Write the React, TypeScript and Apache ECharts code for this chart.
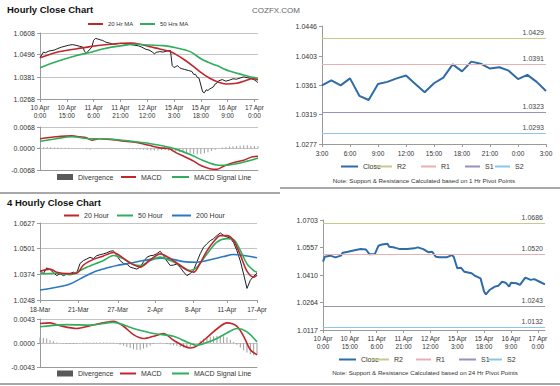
import React, { useEffect, useRef } from 'react';
import * as echarts from 'echarts';

const FONT = "'Liberation Sans', Arial, Helvetica, sans-serif";

// ---------- Hourly close chart (top-left) ----------
const hourlyTickHours = [0, 15, 30, 45, 60, 75, 90, 105, 120];
const hourlyTickLabels = ['10 Apr\n0:00', '10 Apr\n15:00', '11 Apr\n6:00', '11 Apr\n21:00', '12 Apr\n12:00', '15 Apr\n3:00', '15 Apr\n18:00', '16 Apr\n9:00', '17 Apr\n0:00'];
const hourlyPriceTicks = [1.0268, 1.0381, 1.0496, 1.0608];
const hourlyMacdTicks = [-0.0068, 0, 0.0068];

const hourlyCloseHours = [0, 2, 3, 5, 8, 10, 12, 14, 16, 18, 20, 22, 24, 25, 26, 27, 28, 29, 30, 31, 32, 33, 34, 35, 36, 37, 39, 41, 43, 45, 47, 49, 51, 53, 55, 57, 59, 61, 63, 64, 65, 67, 69, 71, 73, 74, 75, 76, 77, 78, 79, 81, 83, 85, 86, 87, 88, 89, 90, 91, 92, 93, 94, 95, 96, 97, 98, 99, 100, 102, 104, 106, 108, 110, 112, 114, 116, 118, 120, 121, 122];
const hourlyClose = [1.0481, 1.0510, 1.0506, 1.0515, 1.0520, 1.0528, 1.0535, 1.0540, 1.0545, 1.0548, 1.0545, 1.0540, 1.0535, 1.0512, 1.0505, 1.0515, 1.0525, 1.0535, 1.0570, 1.0580, 1.0578, 1.0575, 1.0572, 1.0570, 1.0565, 1.0560, 1.0556, 1.0550, 1.0552, 1.0555, 1.0552, 1.0550, 1.0548, 1.0545, 1.0542, 1.0535, 1.0525, 1.0520, 1.0510, 1.0500, 1.0508, 1.0512, 1.0510, 1.0515, 1.0518, 1.0440, 1.0430, 1.0435, 1.0440, 1.0430, 1.0425, 1.0420, 1.0415, 1.0410, 1.0395, 1.0395, 1.0380, 1.0375, 1.0340, 1.0305, 1.0300, 1.0315, 1.0312, 1.0320, 1.0325, 1.0330, 1.0345, 1.0350, 1.0362, 1.0368, 1.0360, 1.0365, 1.0372, 1.0370, 1.0376, 1.0382, 1.0378, 1.0374, 1.0366, 1.0360, 1.0352];

const ma20HrHours = [0, 9, 20, 28, 35, 46, 51, 56, 61, 67, 72, 76, 81, 86, 90, 95, 100, 104, 110, 116, 119, 122];
const ma20Hr = [1.0481, 1.0508, 1.0526, 1.0538, 1.0546, 1.0555, 1.0556, 1.0550, 1.0538, 1.0526, 1.0515, 1.0498, 1.0469, 1.0435, 1.0405, 1.0375, 1.0354, 1.0345, 1.0349, 1.0366, 1.0374, 1.0366];
const ma50HrHours = [0, 9, 20, 28, 35, 46, 54, 61, 69, 76, 84, 91, 99, 106, 114, 119, 122];
const ma50Hr = [1.0429, 1.0460, 1.0491, 1.0508, 1.0526, 1.0543, 1.0550, 1.0546, 1.0543, 1.0532, 1.0512, 1.0470, 1.0440, 1.0412, 1.0392, 1.0380, 1.0375];

const hourlyMacdHours = [0, 9, 18, 22, 26, 29, 33, 39, 46, 54, 61, 67, 72, 76, 81, 86, 90, 95, 99, 103, 108, 114, 119, 122];
const hourlyMacd = [0.0031, 0.0037, 0.0040, 0.0037, 0.0034, 0.0026, 0.0031, 0.0029, 0.0024, 0.0019, 0.0010, 0.0002, 0.0000, -0.0013, -0.0026, -0.0040, -0.0054, -0.0064, -0.0066, -0.0055, -0.0045, -0.0037, -0.0026, -0.0025];
const hourlySignalHours = [0, 9, 18, 28, 35, 46, 54, 61, 69, 76, 84, 91, 99, 104, 110, 116, 122];
const hourlySignal = [0.0023, 0.0031, 0.0037, 0.0031, 0.0031, 0.0026, 0.0021, 0.0016, 0.0008, -0.0002, -0.0019, -0.0037, -0.0052, -0.0053, -0.0048, -0.0040, -0.0031];
// one bar every 2 hours, from 0:00 on 10 Apr
const hourlyDivergence = [0.0004, 0.0004, 0.0005, 0.0004, 0.0003, 0.0003, 0.0002, 0.0002, 0.0002, 0.0001, 0.0001,
  0.0000, 0.0000, -0.0002, -0.0003, 0.0000, 0.0001, 0.0000, 0.0000, 0.0000, -0.0001, -0.0001, -0.0001, -0.0001, -0.0001, -0.0002, -0.0002, -0.0002, -0.0003,
  -0.0004, -0.0005, -0.0006, -0.0006, -0.0006, -0.0005, -0.0005, -0.0007, -0.0009, -0.0010, -0.0011, -0.0012, -0.0013, -0.0015, -0.0017, -0.0018, -0.0017, -0.0015, -0.0012, -0.0008, -0.0004,
  0.0000, 0.0003, 0.0005, 0.0006, 0.0007, 0.0008, 0.0009, 0.0010, 0.0010, 0.0009, 0.0008, 0.0007];

// ---------- 1 Hr pivot chart (top-right) ----------
const pivotHourTicks = [0, 3, 6, 9, 12, 15, 18, 21, 24];
const pivotHourLabels = ['3:00', '6:00', '9:00', '12:00', '15:00', '18:00', '21:00', '0:00', '3:00'];
const pivot1hPriceTicks = [1.0277, 1.0319, 1.0361, 1.0403, 1.0446];
const close1h = [1.0361, 1.0368, 1.0361, 1.0371, 1.0346, 1.0340, 1.0363, 1.0366, 1.0371, 1.0375, 1.0363, 1.0351, 1.0364, 1.0372, 1.0391, 1.0381, 1.0395, 1.0392, 1.0385, 1.0387, 1.0382, 1.0370, 1.0376, 1.0366, 1.0353];
const pivotNames = ['R2', 'R1', 'S1', 'S2'];
const pivotLevels1h = [1.0429, 1.0391, 1.0323, 1.0293];

// ---------- 4 Hourly close chart (bottom-left) ----------
const fourHourTickPos = [0, 11.5, 23.3, 34.5, 45.8, 56, 65];
const fourHourTickLabels = ['18-Mar', '21-Mar', '27-Mar', '2-Apr', '8-Apr', '11-Apr', '17-Apr'];
const fourHourPriceTicks = [1.0248, 1.0374, 1.0501, 1.0627];
const fourHourMacdTicks = [-0.0043, 0, 0.0043];
const fourHourClose = [1.0393, 1.0377, 1.0406, 1.0398, 1.0383, 1.0368, 1.0377, 1.0368, 1.0375, 1.0378, 1.0385, 1.0380, 1.0428, 1.0442, 1.0450, 1.0458, 1.0452, 1.0466, 1.0471, 1.0475, 1.0480, 1.0488, 1.0490, 1.0467, 1.0442, 1.0428, 1.0425, 1.0410, 1.0405, 1.0400, 1.0410, 1.0436, 1.0458, 1.0466, 1.0468, 1.0476, 1.0488, 1.0466, 1.0440, 1.0418, 1.0420, 1.0425, 1.0408, 1.0386, 1.0368, 1.0378, 1.0395, 1.0436, 1.0476, 1.0508, 1.0525, 1.0540, 1.0550, 1.0565, 1.0578, 1.0566, 1.0558, 1.0553, 1.0530, 1.0490, 1.0440, 1.0375, 1.0305, 1.0345, 1.0365, 1.0380];
const ma20HourX = [0, 3, 5, 8, 11, 13, 16, 19, 22, 24, 27, 30, 33, 36, 38, 41, 44, 46, 48, 50, 52, 54, 56, 58, 60, 62, 64, 65];
const ma20Hour = [1.0390, 1.0400, 1.0385, 1.0378, 1.0380, 1.0420, 1.0448, 1.0465, 1.0482, 1.0465, 1.0430, 1.0410, 1.0445, 1.0475, 1.0462, 1.0430, 1.0395, 1.0385, 1.0430, 1.0490, 1.0535, 1.0565, 1.0565, 1.0540, 1.0470, 1.0390, 1.0360, 1.0370];
const ma50HourX = [0, 5, 9, 11, 14, 19, 22, 25, 28, 30, 33, 36, 39, 42, 45, 47, 50, 53, 56, 58, 60, 62, 64, 65];
const ma50Hour = [1.0377, 1.0380, 1.0373, 1.0385, 1.0409, 1.0442, 1.0467, 1.0451, 1.0423, 1.0418, 1.0442, 1.0459, 1.0442, 1.0418, 1.0393, 1.0409, 1.0475, 1.0533, 1.0550, 1.0545, 1.0492, 1.0426, 1.0393, 1.0385];
const ma200HourX = [0, 5, 9, 12, 16, 19, 23, 27, 31, 36, 39, 43, 47, 51, 55, 58, 61, 65];
const ma200Hour = [1.0297, 1.0311, 1.0327, 1.0352, 1.0385, 1.0401, 1.0418, 1.0429, 1.0442, 1.0454, 1.0451, 1.0437, 1.0434, 1.0446, 1.0462, 1.0472, 1.0467, 1.0456];
const fourHourMacdX = [0, 3, 6, 11, 15, 19, 22, 25, 28, 31, 34, 37, 40, 45, 47, 51, 54, 56, 59, 61, 63, 65];
const fourHourMacd = [0.0035, 0.0036, 0.0031, 0.0026, 0.0031, 0.0036, 0.0039, 0.0030, 0.0015, 0.0008, 0.0012, 0.0017, 0.0005, -0.0009, -0.0005, 0.0015, 0.0030, 0.0036, 0.0030, 0.0012, -0.0012, -0.0021];
const fourHourSignalX = [0, 8, 15, 22, 28, 34, 40, 44, 47, 50, 53, 56, 59, 62, 65];
const fourHourSignal = [0.0029, 0.0033, 0.0032, 0.0037, 0.0026, 0.0017, 0.0012, 0.0002, -0.0004, 0.0001, 0.0008, 0.0018, 0.0026, 0.0020, 0.0002];
const fourHourDivergence = [0.0010, 0.0009, 0.0008, 0.0005, 0.0003,
  0.0001, 0.0000, -0.0001, -0.0002, -0.0002, -0.0002, -0.0001,
  0.0000, 0.0001, 0.0001, 0.0001, 0.0001, 0.0001, 0.0001, 0.0001, 0.0001, 0.0001, 0.0001,
  -0.0001, -0.0003, -0.0005, -0.0007, -0.0009, -0.0011, -0.0012, -0.0012, -0.0010, -0.0008, -0.0005,
  -0.0002, 0.0000, 0.0001, 0.0000, -0.0002, -0.0003, -0.0004,
  -0.0005, -0.0007, -0.0008, -0.0009, -0.0007, -0.0004, 0.0000, 0.0004,
  0.0007, 0.0009, 0.0011, 0.0012, 0.0013, 0.0013, 0.0012, 0.0010, 0.0006, 0.0002, -0.0003,
  -0.0008, -0.0013, -0.0017, -0.0020, -0.0022, -0.0021];

// ---------- 24 Hr pivot chart (bottom-right) ----------
const pivot24hPriceTicks = [1.0117, 1.0264, 1.0410, 1.0557, 1.0703];
const close24hHours = [0, 1, 4, 7, 10, 11, 14, 17, 21, 24, 26, 29, 31, 33, 36, 37, 40, 43, 47, 51, 53, 56, 59, 61, 63, 65, 69, 72, 73, 75, 77, 79, 83, 85, 88, 90, 91, 93, 96, 98, 100, 102, 104, 105, 108, 110, 113, 116, 118, 121, 124];
const close24h = [1.0481, 1.0507, 1.0513, 1.0504, 1.0513, 1.0529, 1.0534, 1.0541, 1.0548, 1.0546, 1.0520, 1.0522, 1.0566, 1.0573, 1.0577, 1.0561, 1.0556, 1.0548, 1.0548, 1.0552, 1.0557, 1.0548, 1.0531, 1.0534, 1.0507, 1.0505, 1.0504, 1.0516, 1.0507, 1.0446, 1.0449, 1.0427, 1.0419, 1.0405, 1.0392, 1.0321, 1.0307, 1.0330, 1.0348, 1.0353, 1.0374, 1.0369, 1.0348, 1.0369, 1.0366, 1.0357, 1.0396, 1.0384, 1.0388, 1.0374, 1.0360];
const pivotLevels24h = [1.0686, 1.0520, 1.0243, 1.0132];

// ---------- styling ----------
const RED = '#c0272d';
const GREEN = '#2fae5c';
const BLUE200 = '#2a78c0';
const BLACK = '#1e1e1e';
const CLOSE_BLUE = '#2d6ca8';
const PIVOT_COLORS = ['#c9c98c', '#e8b0b0', '#9a90bf', '#8dc6e8'];
const GRID_GRAY = '#c4c4c4';
const AXIS_GRAY = '#9a9a9a';
const TXT = '#333';
const SEP = '|'; // series names: "<legend text>|<panel>"

const pts = (xs: number[], ys: number[]) => xs.map((x, i) => [x, ys[i]]);
const nearestIdx = (arr: number[], v: number) => {
  let best = 0;
  arr.forEach((a, i) => { if (Math.abs(a - v) < Math.abs(arr[best] - v)) best = i; });
  return best;
};

function yAx(grid: number, ticks: number[], split: boolean) {
  return {
    type: 'value', gridIndex: grid, min: ticks[0], max: ticks[ticks.length - 1],
    axisLine: { show: true, lineStyle: { color: AXIS_GRAY } },
    axisTick: { show: true, length: 3, customValues: ticks, lineStyle: { color: AXIS_GRAY } },
    axisLabel: { fontSize: 7, color: TXT, fontFamily: FONT, margin: 5, customValues: ticks, formatter: (v: number) => v.toFixed(4) },
    splitLine: { show: split, lineStyle: { color: GRID_GRAY } },
  };
}
function xAx(grid: number, max: number, ticks?: number[], labels?: string[], margin = 4) {
  return {
    type: 'value', gridIndex: grid, min: 0, max,
    axisLine: { show: true, onZero: false, lineStyle: { color: AXIS_GRAY } },
    axisTick: ticks ? { show: true, length: 3, customValues: ticks, lineStyle: { color: AXIS_GRAY } } : { show: false },
    axisLabel: ticks
      ? { fontSize: 6.5, lineHeight: 8, color: TXT, fontFamily: FONT, margin, customValues: ticks, formatter: (v: number) => labels![nearestIdx(ticks, v)] }
      : { show: false },
    splitLine: { show: false },
  };
}
function line(name: string, ax: number, data: number[][], color: string, width: number, smooth: number | boolean = false) {
  return {
    id: name, name, type: 'line', xAxisIndex: ax, yAxisIndex: ax, data, symbol: 'none', smooth, color,
    lineStyle: { color, width }, itemStyle: { color }, silent: true, animation: false,
  };
}
function bars(name: string, ax: number, data: number[][]) {
  return {
    id: name, name, type: 'bar', xAxisIndex: ax, yAxisIndex: ax, data, barWidth: 1, color: '#9c9c9c',
    itemStyle: { color: '#9c9c9c' }, silent: true, animation: false,
  };
}
function pivotSeries(ax: number, levels: number[], tag: string) {
  return levels.map((lvl, i) => ({
    id: pivotNames[i] + SEP + tag, name: pivotNames[i] + SEP + tag, type: 'line', xAxisIndex: ax, yAxisIndex: ax,
    data: [[0, lvl]], symbol: 'none',
    color: PIVOT_COLORS[i], lineStyle: { color: PIVOT_COLORS[i], width: 1 }, itemStyle: { color: PIVOT_COLORS[i] },
    silent: true, animation: false,
    markLine: {
      silent: true, symbol: 'none', animation: false, precision: 4,
      lineStyle: { color: PIVOT_COLORS[i], width: 1.2, type: 'solid' },
      label: { show: true, position: 'insideEndTop', distance: 2, formatter: lvl.toFixed(4), fontSize: 7, color: '#444', fontFamily: FONT },
      data: [{ yAxis: lvl }],
    },
  }));
}
function lg(name: string, left: number, cy: number, w: number, h: number, fs = 7, iconColor?: string) {
  return {
    data: [iconColor ? { name, itemStyle: { color: iconColor } } : name],
    left, top: cy - 4, padding: 0, itemWidth: w, itemHeight: h, icon: 'rect', selectedMode: false,
    itemStyle: { borderWidth: 0 },
    formatter: (n: string) => n.split(SEP)[0],
    textStyle: { fontSize: fs, color: TXT, fontFamily: FONT },
  };
}
const txt = (text: string, x: number, y: number, size: number, opts: any = {}) => ({
  type: 'text', x, y, silent: true,
  style: { text, fontSize: size, fontFamily: FONT, fill: opts.fill || '#222', fontWeight: opts.bold ? 'bold' : 'normal', align: opts.align || 'left', verticalAlign: 'middle' },
});

function buildOption() {
  return {
    animation: false,
    backgroundColor: '#ffffff',
    grid: [
      { left: 40, top: 33, width: 218, height: 66 },
      { left: 40, top: 127, width: 218, height: 43 },
      { left: 322, top: 26, width: 224, height: 118 },
      { left: 40, top: 223, width: 217, height: 77 },
      { left: 40, top: 319, width: 217, height: 48 },
      { left: 323, top: 220, width: 222, height: 110 },
    ],
    xAxis: [
      xAx(0, 122, hourlyTickHours, hourlyTickLabels, 4),
      xAx(1, 122),
      xAx(2, 24, pivotHourTicks, pivotHourLabels, 5),
      xAx(3, 65, fourHourTickPos, fourHourTickLabels, 5),
      xAx(4, 65),
      xAx(5, 124, hourlyTickHours, hourlyTickLabels, 4),
    ],
    yAxis: [
      yAx(0, hourlyPriceTicks, true),
      yAx(1, hourlyMacdTicks, true),
      yAx(2, pivot1hPriceTicks, false),
      yAx(3, fourHourPriceTicks, true),
      yAx(4, fourHourMacdTicks, true),
      yAx(5, pivot24hPriceTicks, false),
    ],
    legend: [
      lg('20 Hr MA', 88, 25, 15, 2, 6),
      lg('50 Hrs MA', 140, 25, 15, 2, 6),
      lg('Divergence|1h', 57, 177.5, 16, 6, 7, '#595959'),
      lg('MACD|1h', 121, 177.5, 15, 2),
      lg('MACD Signal Line|1h', 172, 177.5, 17, 2),
      lg('Close|1h', 341, 167, 17, 2),
      lg('R2|1h', 376, 167, 16, 2),
      lg('R1|1h', 421, 167, 15, 2),
      lg('S1|1h', 465, 167, 15, 2),
      lg('S2|1h', 495, 167, 15, 2),
      lg('20 Hour', 64, 216, 15, 2),
      lg('50 Hour', 117, 216, 16, 2),
      lg('200 Hour', 172, 216, 19, 2),
      lg('Divergence|4h', 57, 374, 16, 6, 7, '#595959'),
      lg('MACD|4h', 120, 374, 16, 2),
      lg('MACD Signal Line|4h', 172, 374, 17, 2),
      lg('Close|24h', 339, 360, 17, 2),
      lg('R2|24h', 372, 360, 17, 2),
      lg('R1|24h', 416, 360, 15, 2),
      lg('S1|24h', 459, 360, 17, 2),
      lg('S2|24h', 487, 360, 15, 2),
    ],
    series: [
      // top-left price
      line('Hourly Close', 0, pts(hourlyCloseHours, hourlyClose), BLACK, 1),
      line('20 Hr MA', 0, pts(ma20HrHours, ma20Hr), RED, 1.6, 0.3),
      line('50 Hrs MA', 0, pts(ma50HrHours, ma50Hr), GREEN, 1.6, 0.3),
      // top-left macd
      bars('Divergence|1h', 1, hourlyDivergence.map((v, i) => [i * 2, v])),
      line('MACD|1h', 1, pts(hourlyMacdHours, hourlyMacd), RED, 1.6, 0.3),
      line('MACD Signal Line|1h', 1, pts(hourlySignalHours, hourlySignal), GREEN, 1.6, 0.3),
      // top-right
      ...pivotSeries(2, pivotLevels1h, '1h'),
      line('Close|1h', 2, close1h.map((v, i) => [i, v]), CLOSE_BLUE, 2),
      // bottom-left price
      line('4H Close', 3, fourHourClose.map((v, i) => [i, v]), BLACK, 1),
      line('200 Hour', 3, pts(ma200HourX, ma200Hour), BLUE200, 1.6, 0.3),
      line('50 Hour', 3, pts(ma50HourX, ma50Hour), GREEN, 1.6, 0.3),
      line('20 Hour', 3, pts(ma20HourX, ma20Hour), RED, 1.6, 0.3),
      // bottom-left macd
      bars('Divergence|4h', 4, fourHourDivergence.map((v, i) => [i, v])),
      line('MACD|4h', 4, pts(fourHourMacdX, fourHourMacd), RED, 1.6, 0.3),
      line('MACD Signal Line|4h', 4, pts(fourHourSignalX, fourHourSignal), GREEN, 1.6, 0.3),
      // bottom-right
      ...pivotSeries(5, pivotLevels24h, '24h'),
      line('Close|24h', 5, pts(close24hHours, close24h), CLOSE_BLUE, 2),
    ],
    graphic: [
      txt('Hourly Close Chart', 7, 9, 9.5, { bold: true, fill: '#111' }),
      txt('COZFX.COM', 252, 10, 8, { fill: '#666' }),
      txt('4 Hourly Close Chart', 7, 202, 9.5, { bold: true, fill: '#111' }),
      txt('Note: Support & Resistance Calculated based on 1 Hr Pivot Points', 424, 180, 6.2, { align: 'center', fill: '#333' }),
      txt('Note: Support & Resistance Calculated based on 24 Hr Pivot Points', 425, 372, 6.2, { align: 'center', fill: '#333' }),
      { type: 'rect', silent: true, shape: { x: 0, y: 192, width: 280, height: 2 }, style: { fill: '#a8a8a8' } },
      { type: 'rect', silent: true, shape: { x: 280, y: 187, width: 280, height: 2 }, style: { fill: '#a8a8a8' } },
      { type: 'rect', silent: true, shape: { x: 0, y: 383, width: 280, height: 2 }, style: { fill: '#a8a8a8' } },
      { type: 'rect', silent: true, shape: { x: 280, y: 383, width: 280, height: 2 }, style: { fill: '#a8a8a8' } },
    ],
  };
}

export default function App() {
  const ref = useRef<HTMLDivElement>(null);
  useEffect(() => {
    const chart = echarts.init(ref.current!, null, { renderer: 'svg' });
    chart.setOption(buildOption() as any);
    return () => chart.dispose();
  }, []);
  return <div ref={ref} style={{ position: 'absolute', left: 0, top: 0, width: 560, height: 386, background: '#fff' }} />;
}
